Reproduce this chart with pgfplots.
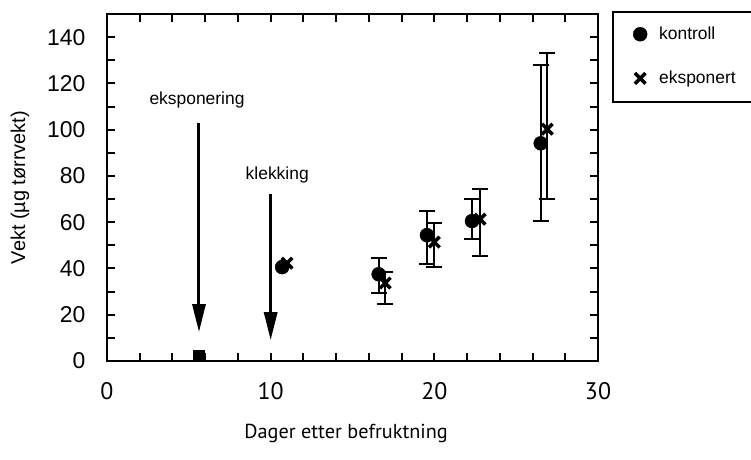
\documentclass[border=0pt]{standalone}
\usepackage{fontspec}
\setmainfont{Liberation Sans}
\newfontfamily\xfont{PT Sans}
\usepackage{pgfplots}
\pgfplotsset{compat=1.18}
\usetikzlibrary{arrows.meta}
\begin{document}
\begin{tikzpicture}
\path[use as bounding box] (0,0) rectangle (751bp,460bp);
\begin{axis}[
  at={(107bp,99bp)}, anchor=south west,
  width=491bp, height=347bp, scale only axis,
  xmin=0, xmax=30, ymin=0, ymax=150,
  clip=false,
  xtick={0,10,20,30},
  minor xtick={2,4,6,8,12,14,16,18,22,24,26,28},
  ytick={0,20,...,140},
  minor ytick={10,30,...,150},
  xticklabel pos=lower, yticklabel pos=left,
  tick pos=both,
  major tick length=8bp, minor tick length=8bp,
  tick style={line width=2bp, black},
  axis line style={line width=2.5bp},
  /pgf/number format/assume math mode=true,
  yticklabel style={font=\fontsize{23}{25}\selectfont, xshift=-18bp},
  xticklabel style={font=\xfont\fontsize{24}{26}\selectfont, yshift=-18bp},
  xlabel={Dager etter befruktning},
  xlabel style={font=\xfont\fontsize{20.3}{22}\selectfont, at={(axis description cs:0.487,-0.21)}, anchor=center},
  ylabel={Vekt (µg tørrvekt)},
  ylabel style={font=\fontsize{20}{22}\selectfont, at={(axis description cs:-0.177,0.5)}, anchor=center},
  legend style={at={(1.0305,1.0058)}, anchor=north west, draw=none, fill=none,
    font=\fontsize{17.5}{21}\selectfont, row sep=26bp, inner ysep=13bp, inner xsep=20bp,
    column sep=10bp},
  legend cell align=left,
]
% square marker at exposure
\addplot[only marks, mark=square*, mark size=5.5bp, black, forget plot] coordinates {(5.6,2.4)};
% first points without error bars
\addplot[only marks, mark=*, mark size=7bp, black, forget plot] coordinates {(10.7,40.6)};
\addplot[only marks, mark=x, mark size=7.5bp, black, line width=3.5bp, forget plot] coordinates {(11.0,42.3)};
% kontroll
\addplot[only marks, mark=*, mark size=7bp, black,
  error bars/.cd, y dir=both, y explicit,
  error bar style={line width=2bp},
  error mark options={rotate=90, mark size=8bp, line width=2bp}]
coordinates {
  (16.6,37.5) += (0,7.0) -= (0,8.1)
  (19.55,54.4) += (0,10.4) -= (0,12.5)
  (22.3,60.5) += (0,9.5) -= (0,7.8)
  (26.5,94.1) += (0,33.7) -= (0,33.6)
};
\addlegendentry{kontroll}
% eksponert
\addplot[only marks, mark=x, mark size=7.5bp, black, line width=3.5bp,
  error bars/.cd, y dir=both, y explicit,
  error bar style={line width=2bp},
  error mark options={rotate=90, mark size=8bp, line width=2bp}]
coordinates {
  (17.0,33.7) += (0,4.7) -= (0,9.1)
  (20.0,51.4) += (0,8.2) -= (0,10.8)
  (22.8,61.3) += (0,13.0) -= (0,16.0)
  (26.9,100.2) += (0,32.9) -= (0,30.2)
};
\addlegendentry{eksponert}
% legend frame (open on the right, running past the picture edge)
\draw[line width=2bp] (axis description cs:1.35,1.0058) -- (axis description cs:1.0305,1.0058)
  -- (axis description cs:1.0305,0.746) -- (axis description cs:1.35,0.746);
% annotations
\draw[line width=3bp, -{Triangle[length=28bp,width=13bp]}] (axis cs:5.62,103) -- (axis cs:5.62,12.5);
\draw[line width=3bp, -{Triangle[length=28bp,width=13bp]}] (axis cs:10.0,72) -- (axis cs:10.0,9);
\node[font=\fontsize{17.5}{20}\selectfont] at (axis cs:5.5,112.7) {eksponering};
\node[font=\fontsize{17.5}{20}\selectfont] at (axis cs:10.4,80.3) {klekking};
\end{axis}
\end{tikzpicture}
\end{document}
